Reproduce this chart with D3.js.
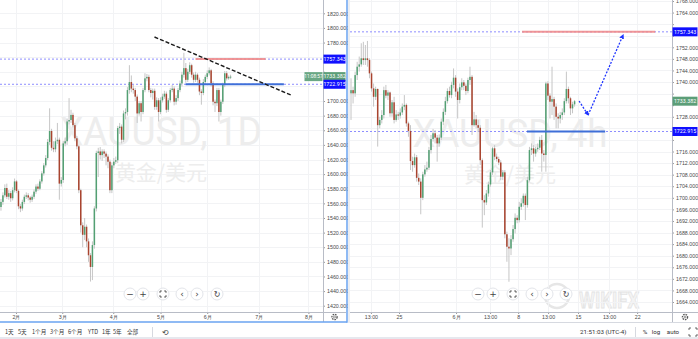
<!DOCTYPE html>
<html>
<head>
<meta charset="utf-8">
<script src="https://cdn.jsdelivr.net/npm/d3@7"></script>
<style>
  body { margin: 0; background: #fff; overflow: hidden; }
  svg { display: block; font-family: Roboto, "Noto Sans", "Noto Sans CJK SC", sans-serif; }
</style>
</head>
<body>
<svg id="chart" width="698" height="339"></svg>
<script>
// daily bars, [open, high, low, close]
const dailyOHLC = [
  [1555,1566,1550,1562],[1562,1575,1558,1571],[1571,1586,1568,1581],[1581,1587,1566,1569],[1569,1578,1565,1574],
  [1574,1577,1562,1567],[1567,1582,1564,1578],[1578,1594,1575,1590],[1590,1592,1574,1577],[1577,1579,1552,1556],
  [1556,1559,1548,1553],[1553,1565,1550,1562],[1562,1572,1559,1569],[1569,1575,1566,1571],[1571,1574,1564,1568],
  [1568,1570,1561,1565],[1565,1572,1562,1569],[1569,1579,1566,1576],[1576,1586,1573,1583],[1583,1587,1577,1580],
  [1580,1593,1578,1590],[1590,1604,1587,1601],[1601,1615,1598,1612],[1612,1626,1609,1622],[1622,1648,1619,1644],
  [1644,1690,1640,1659],[1659,1662,1632,1636],[1636,1645,1630,1634],[1634,1650,1630,1645],[1645,1670,1641,1647],
  [1647,1650,1565,1587],[1587,1596,1583,1592],[1592,1645,1588,1642],[1642,1650,1638,1645],[1645,1676,1640,1672],
  [1672,1704,1668,1674],[1674,1688,1670,1681],[1681,1684,1664,1667],[1667,1670,1645,1649],[1649,1652,1634,1638],
  [1638,1640,1574,1578],[1578,1580,1520,1530],[1530,1534,1500,1517],[1517,1540,1510,1528],[1528,1531,1500,1508],
  [1508,1512,1480,1489],[1489,1492,1453,1473],[1473,1508,1455,1503],[1503,1556,1498,1553],[1553,1632,1549,1629],
  [1629,1636,1596,1631],[1631,1637,1620,1626],[1626,1634,1618,1631],[1631,1634,1622,1628],[1628,1631,1612,1624],
  [1624,1627,1608,1617],[1617,1620,1574,1578],[1578,1616,1574,1612],[1612,1622,1608,1617],[1617,1624,1614,1619],
  [1619,1666,1615,1663],[1663,1670,1655,1665],[1665,1668,1642,1647],[1647,1687,1644,1683],[1683,1690,1675,1685],
  [1685,1719,1680,1715],[1715,1749,1710,1726],[1726,1735,1712,1717],[1717,1722,1710,1715],[1715,1718,1700,1706],
  [1706,1709,1670,1683],[1683,1700,1680,1697],[1697,1700,1672,1685],[1685,1718,1682,1715],[1715,1738,1712,1731],
  [1731,1737,1727,1733],[1733,1736,1712,1715],[1715,1718,1705,1711],[1711,1717,1702,1714],[1714,1717,1688,1692],
  [1692,1705,1688,1701],[1701,1704,1672,1685],[1685,1705,1682,1701],[1701,1710,1698,1706],[1706,1714,1703,1710],
  [1710,1713,1684,1688],[1688,1704,1685,1701],[1701,1718,1698,1715],[1715,1722,1712,1717],[1717,1720,1694,1699],
  [1699,1708,1695,1704],[1704,1718,1700,1715],[1715,1728,1712,1724],[1724,1740,1720,1736],[1736,1766,1732,1745],
  [1745,1752,1725,1729],[1729,1744,1726,1740],[1740,1753,1737,1749],[1749,1751,1732,1736],[1736,1739,1725,1729],
  [1729,1740,1726,1736],[1736,1738,1725,1729],[1729,1732,1708,1713],[1713,1716,1695,1711],[1711,1730,1708,1726],
  [1726,1736,1723,1733],[1733,1742,1730,1738],[1738,1746,1735,1742],[1742,1744,1720,1724],[1724,1727,1694,1699],
  [1699,1702,1685,1697],[1697,1718,1693,1715],[1715,1718,1672,1685],[1685,1702,1680,1699],[1699,1725,1696,1722],
  [1722,1741,1719,1738],[1738,1741,1728,1731],[1731,1735,1729,1733],[1733,1736,1730,1733.382]
];

// 4h bars, [open, high, low, close]
const h4OHLC = [
  [1736.1,1741.3,1726.9,1737.2],[1737.2,1738.4,1732.6,1736.1],[1736.1,1743.6,1734.9,1742.4],[1742.4,1747.0,1740.7,1745.3],
  [1745.3,1748.8,1743.6,1746.1],[1746.1,1753.4,1745.3,1748.2],[1748.2,1753.9,1745.9,1747.6],[1747.6,1752.8,1745.9,1748.2],
  [1748.2,1754.2,1745.3,1747.6],[1747.6,1748.2,1741.3,1743.0],[1743.0,1743.6,1736.7,1737.8],[1737.8,1739.5,1731.5,1734.9],
  [1734.9,1738.4,1733.8,1737.6],[1737.6,1737.8,1717.7,1725.1],[1725.1,1728.0,1724.0,1726.9],[1726.9,1730.3,1725.7,1728.6],
  [1728.6,1738.4,1727.4,1737.2],[1737.2,1739.0,1734.4,1735.3],[1735.3,1737.2,1733.8,1736.4],[1736.4,1736.7,1728.0,1729.2],
  [1729.2,1733.8,1728.0,1733.0],[1733.0,1734.9,1725.7,1726.9],[1726.9,1730.3,1726.3,1728.8],[1728.8,1729.7,1726.9,1728.4],
  [1728.4,1730.9,1727.4,1729.5],[1729.5,1732.6,1728.6,1731.5],[1731.5,1735.5,1730.3,1732.1],[1732.1,1732.6,1724.6,1725.7],
  [1725.7,1726.3,1721.1,1723.1],[1723.1,1725.1,1709.6,1712.7],[1712.7,1714.2,1709.0,1711.3],[1711.3,1715.3,1710.4,1714.0],
  [1714.0,1714.8,1705.6,1706.9],[1706.9,1708.4,1704.4,1705.6],[1705.6,1706.7,1694.3,1700.0],[1700.0,1709.0,1699.2,1708.1],
  [1708.1,1711.3,1707.3,1709.8],[1709.8,1712.5,1709.0,1710.4],[1710.4,1717.6,1709.6,1716.5],[1716.5,1721.7,1715.3,1720.3],
  [1720.3,1723.8,1719.4,1722.3],[1722.3,1723.4,1718.8,1720.8],[1720.8,1721.7,1712.5,1718.8],[1718.8,1721.9,1717.7,1720.8],
  [1720.8,1727.4,1720.0,1726.3],[1726.3,1730.9,1725.1,1729.7],[1729.7,1734.9,1728.6,1733.4],[1733.4,1737.8,1732.6,1736.9],
  [1736.9,1738.4,1734.6,1735.5],[1735.5,1740.1,1734.4,1739.0],[1739.0,1744.7,1737.8,1741.5],[1741.5,1742.4,1734.9,1736.7],
  [1736.7,1737.8,1727.4,1733.8],[1733.8,1739.5,1732.6,1738.2],[1738.2,1741.3,1737.2,1739.9],[1739.9,1740.7,1737.2,1738.7],
  [1738.7,1739.5,1735.5,1736.9],[1736.9,1741.5,1736.1,1740.7],[1740.7,1745.3,1739.0,1741.8],[1741.8,1742.4,1721.7,1725.1],
  [1725.1,1729.7,1724.6,1727.1],[1727.1,1728.6,1724.0,1725.1],[1725.1,1726.9,1722.8,1724.2],[1724.2,1725.1,1711.3,1713.0],
  [1713.0,1713.6,1689.7,1699.2],[1699.2,1700.9,1694.0,1698.4],[1698.4,1702.7,1697.5,1701.5],[1701.5,1705.6,1700.4,1704.6],
  [1704.6,1709.6,1703.8,1708.8],[1708.8,1717.6,1707.9,1717.1],[1717.1,1718.2,1713.0,1714.2],[1714.2,1715.3,1712.5,1713.4],
  [1713.4,1714.2,1711.3,1712.2],[1712.2,1713.0,1706.1,1707.3],[1707.3,1709.6,1706.1,1708.8],[1708.8,1709.6,1686.0,1687.4],
  [1687.4,1688.3,1677.9,1683.1],[1683.1,1686.0,1671.0,1682.5],[1682.5,1687.1,1680.2,1685.7],[1685.7,1690.6,1684.8,1689.2],
  [1689.2,1694.6,1687.7,1693.1],[1693.1,1694.0,1691.2,1692.3],[1692.3,1698.6,1691.5,1696.9],[1696.9,1699.8,1695.8,1698.1],
  [1698.1,1701.5,1696.9,1700.7],[1700.7,1701.5,1692.3,1697.5],[1697.5,1707.3,1696.6,1706.1],[1706.1,1717.6,1705.6,1716.5],
  [1716.5,1718.8,1714.8,1717.1],[1717.1,1718.2,1712.5,1715.3],[1715.3,1717.6,1714.2,1716.8],[1716.8,1718.8,1715.9,1717.3],
  [1717.3,1721.1,1716.5,1720.0],[1720.0,1721.7,1709.0,1715.3],[1715.3,1716.5,1712.5,1714.8],[1714.8,1740.1,1709.0,1739.5],
  [1739.5,1740.3,1733.8,1735.3],[1735.3,1736.1,1727.4,1733.2],[1733.2,1745.3,1728.6,1734.1],[1734.1,1734.9,1726.9,1731.5],
  [1731.5,1732.6,1724.0,1728.0],[1728.0,1729.2,1724.0,1727.4],[1727.4,1729.7,1725.7,1728.6],[1728.6,1730.9,1726.9,1729.5],
  [1729.5,1734.4,1728.6,1733.4],[1733.4,1743.6,1732.6,1737.6],[1737.6,1738.4,1732.6,1734.4],[1734.4,1734.9,1728.6,1730.9],
  [1730.9,1733.2,1729.2,1732.3],[1732.3,1733.8,1731.5,1733.382]
];

const dailyPriceTicks = [1420,1440,1460,1480,1500,1520,1540,1560,1580,1600,1620,1640,1660,1680,1700,1720,1740,1760,1780,1800,1820];
const h4PriceTicks = [1664,1668,1672,1676,1680,1684,1688,1692,1696,1700,1704,1708,1712,1716,1720,1724,1728,1732,1736,1740,1744,1748,1752,1756,1760,1764,1768];

const dailyTimeLabels = ["2月","3月","4月","5月","6月","7月","8月"];
const dailyTimeAt = [7.7, 31.5, 57.7, 82, 106, 132.5, 158];
const h4TimeLabels = ["13:00","25","6月","13:00","8","13:00","15","13:00","22"];
const h4TimeAt = [9.7, 23.4, 51.2, 67.8, 81.5, 96.1, 110.7, 125.8, 139.5];

const resistance = 1757.343;
const support = 1722.915;
const lastPrice = 1733.382;
const countdown = "11:08:57";

// drawings, in [bar index, price]
const dailyTrend = [[78.9, 1787.6], [149, 1708.2]];
const dailyRedSeg = [100, 136];
const dailyBlueSeg = [94.9, 145.4];
const h4RedSeg = [83.4, 148.3];
const h4BlueSeg = [85.8, 123.9];
const h4Arrow = [[111.2, 1733.45], [115.6, 1728.6], [132.7, 1756.3]];

const upColor = "#53a073";
const downColor = "#a9442f";
const wickColor = "#c6c6c6";
const gridColor = "#f2f3f5";
const textColor = "#4a4a4a";
const axisBottom = 312;

const svg = d3.select("#chart");
svg.append("rect").attr("width", 698).attr("height", 339).attr("fill", "#fff");

const defs = svg.append("defs");
defs.append("marker")
  .attr("id", "arrowBlue")
  .attr("viewBox", "0 0 10 10")
  .attr("refX", 8).attr("refY", 5)
  .attr("markerWidth", 5).attr("markerHeight", 5)
  .attr("orient", "auto-start-reverse")
  .attr("markerUnits", "userSpaceOnUse")
  .append("path").attr("d", "M0,0 L10,5 L0,10 z").attr("fill", "#1f35ff");

function drawPanel(p) {
  const x = d3.scaleLinear().domain(p.xDomain).range([p.left, p.right]);
  const y = d3.scaleLinear().domain(p.yDomain).range(p.yRange);
  const g = svg.append("g");

  defs.append("clipPath").attr("id", "clip-" + p.id)
    .append("rect").attr("x", p.left).attr("y", 0)
    .attr("width", p.right - p.left).attr("height", axisBottom);

  // grid
  g.append("g").selectAll("line").data(p.priceTicks).join("line")
    .attr("x1", p.left).attr("x2", p.right)
    .attr("y1", d => Math.round(y(d)) + 0.5).attr("y2", d => Math.round(y(d)) + 0.5)
    .attr("stroke", gridColor);
  g.append("g").selectAll("line").data(p.timeAt).join("line")
    .attr("x1", d => Math.round(x(d)) + 0.5).attr("x2", d => Math.round(x(d)) + 0.5)
    .attr("y1", 0).attr("y2", axisBottom)
    .attr("stroke", gridColor);

  // watermark
  const mid = p.wmX;
  g.append("text").attr("x", mid).attr("y", p.wmY)
    .attr("text-anchor", "middle").attr("font-size", 39)
    .attr("textLength", p.wmW).attr("lengthAdjust", "spacingAndGlyphs")
    .attr("fill", "#ededed").text(p.title);
  g.append("text").attr("x", mid).attr("y", p.wmY + 35)
    .attr("text-anchor", "middle").attr("font-size", 21)
    .attr("font-family", "'Noto Sans CJK SC', sans-serif")
    .attr("fill", "#ededed").text("黄金/美元");

  const plot = g.append("g").attr("clip-path", `url(#clip-${p.id})`);

  // level lines (dotted)
  plot.selectAll("line.level").data([resistance, support]).join("line")
    .attr("class", "level")
    .attr("x1", p.left).attr("x2", p.right)
    .attr("y1", d => y(d)).attr("y2", d => y(d))
    .attr("stroke", "#8d8dff").attr("stroke-width", 1)
    .attr("stroke-dasharray", "2,2");

  // candles
  plot.append("g").selectAll("line").data(p.bars).join("line")
    .attr("x1", (d, i) => x(i)).attr("x2", (d, i) => x(i))
    .attr("y1", d => y(d[1])).attr("y2", d => y(d[2]))
    .attr("stroke", wickColor).attr("stroke-width", 1);
  plot.append("g").selectAll("rect").data(p.bars).join("rect")
    .attr("x", (d, i) => x(i) - 0.75).attr("width", 1.5)
    .attr("y", d => y(Math.max(d[0], d[3])))
    .attr("height", d => Math.max(1, Math.abs(y(d[0]) - y(d[3]))))
    .attr("fill", d => d[3] >= d[0] ? upColor : downColor);

  // drawn segments
  plot.append("line")
    .attr("x1", x(p.redSeg[0])).attr("x2", x(p.redSeg[1]))
    .attr("y1", y(resistance)).attr("y2", y(resistance))
    .attr("stroke", "#f08c8c").attr("stroke-width", 2).attr("opacity", 0.9);
  plot.append("line")
    .attr("x1", x(p.blueSeg[0])).attr("x2", x(p.blueSeg[1]))
    .attr("y1", y(support)).attr("y2", y(support))
    .attr("stroke", "#3f6fd8").attr("stroke-width", 2.2);

  p.extra && p.extra(plot, x, y);

  // price axis; labels hidden where a price tag sits on top of them
  const tagged = [resistance, lastPrice, support];
  const ay = g.append("g").attr("transform", `translate(${p.right},0)`)
    .call(d3.axisRight(y).tickValues(p.priceTicks).tickFormat(d3.format(".3f")).tickSize(2).tickPadding(2));
  ay.select(".domain").remove();
  ay.selectAll(".tick line").attr("stroke", "#9a9a9a");
  ay.selectAll("text").attr("font-size", 5.3).attr("fill", textColor)
    .style("display", d => tagged.some(v => Math.abs(y(v) - y(d)) < 8.5) ? "none" : null);
  g.append("line").attr("x1", p.right + 0.5).attr("x2", p.right + 0.5)
    .attr("y1", 0).attr("y2", 322).attr("stroke", "#b8bcc6");

  // time axis
  const ax = g.append("g").attr("transform", `translate(0,${axisBottom})`)
    .call(d3.axisBottom(x).tickValues(p.timeAt).tickFormat((d, i) => p.timeLabels[i]).tickSize(2).tickPadding(1.5));
  ax.select(".domain").remove();
  ax.selectAll(".tick line").attr("stroke", "#9a9a9a");
  ax.selectAll("text").attr("font-size", 5.3).attr("fill", textColor);
  g.append("line").attr("x1", p.left).attr("x2", p.right + p.axisW)
    .attr("y1", axisBottom + 0.5).attr("y2", axisBottom + 0.5).attr("stroke", "#b8bcc6");

  // gear in the corner
  const gear = g.append("g").attr("transform", `translate(${p.right + p.axisW / 2},317)`);
  gear.append("circle").attr("r", 2.6).attr("fill", "none").attr("stroke", "#555").attr("stroke-width", 1.3)
    .attr("stroke-dasharray", "1.6,0.9");
  gear.append("circle").attr("r", 1).attr("fill", "none").attr("stroke", "#555").attr("stroke-width", 0.6);

  // price labels
  const labels = [
    { v: resistance, fill: "#1010ff" },
    { v: lastPrice, fill: "#5c9e78" },
    { v: support, fill: "#1010ff" }
  ];
  const lg = g.append("g").selectAll("g").data(labels).join("g")
    .attr("transform", d => `translate(${p.right + 0.5},${y(d.v)})`);
  lg.append("rect").attr("x", 0).attr("y", -4.5).attr("width", p.axisW - 1).attr("height", 9).attr("fill", d => d.fill);
  lg.append("text").attr("x", (p.axisW - 1) / 2).attr("y", 0).attr("dy", "0.35em")
    .attr("text-anchor", "middle").attr("font-size", 5.3).attr("fill", "#fff")
    .text(d => d3.format(".3f")(d.v));
  if (p.countdown) {
    const cg = g.append("g").attr("transform", `translate(${p.right - 18.5},${y(lastPrice)})`);
    cg.append("rect").attr("x", 0).attr("y", -4.5).attr("width", 18).attr("height", 9).attr("fill", "#6aa784");
    cg.append("text").attr("x", 9).attr("dy", "0.35em").attr("text-anchor", "middle")
      .attr("font-size", 4.8).attr("fill", "#fff").text(countdown);
  }

  // navigation buttons
  const icons = ["−", "+", "", "‹", "›", "↻"];
  const nb = g.append("g").selectAll("g").data(p.navX).join("g")
    .attr("transform", d => `translate(${d},294)`);
  nb.append("circle").attr("r", 6).attr("fill", "#fff").attr("stroke", "#e3e5ea");
  nb.append("text").attr("dy", "0.35em").attr("text-anchor", "middle")
    .attr("font-size", (d, i) => i === 5 ? 8 : 9).attr("fill", "#444")
    .attr("font-family", "'DejaVu Sans', sans-serif")
    .text((d, i) => icons[i]);
  const fs = d3.select(nb.nodes()[2]);
  fs.append("path").attr("d", "M-3,-1.2V-3H-1.2M1.2,-3H3V-1.2M3,1.2V3H1.2M-1.2,3H-3V1.2")
    .attr("fill", "none").attr("stroke", "#444").attr("stroke-width", 0.9);
}

// wikifx watermark sits under the right panel controls
const wm = svg.append("g");
wm.append("circle").attr("cx", 557).attr("cy", 296).attr("r", 12)
  .attr("fill", "none").attr("stroke", "#e6e6e6").attr("stroke-width", 2.5);
wm.append("text").attr("x", 579).attr("y", 308).attr("font-size", 22).attr("font-weight", 700)
  .attr("textLength", 60).attr("lengthAdjust", "spacingAndGlyphs")
  .attr("fill", "#f4f4f4").attr("stroke", "#e4e4e4").attr("stroke-width", 0.8).text("WIKIFX");

drawPanel({
  id: "daily", bars: dailyOHLC, left: 0, right: 323, axisW: 23,
  xDomain: [-0.5, 165.5], yDomain: [1420, 1820], yRange: [305.7, 13.3],
  priceTicks: dailyPriceTicks, timeAt: dailyTimeAt, timeLabels: dailyTimeLabels,
  title: "XAUUSD, 1D", wmX: 161, wmY: 145, wmW: 202,
  redSeg: dailyRedSeg, blueSeg: dailyBlueSeg, countdown: true,
  navX: [130, 143, 163, 182, 197, 217],
  extra: (plot, x, y) => {
    plot.append("line")
      .attr("x1", x(dailyTrend[0][0])).attr("y1", y(dailyTrend[0][1]))
      .attr("x2", x(dailyTrend[1][0])).attr("y2", y(dailyTrend[1][1]))
      .attr("stroke", "#1a1a1a").attr("stroke-width", 1.4).attr("stroke-dasharray", "4,2");
  }
});

drawPanel({
  id: "h4", bars: h4OHLC, left: 350, right: 672, axisW: 26,
  xDomain: [-0.5, 156.5], yDomain: [1664, 1768], yRange: [302, 1],
  priceTicks: h4PriceTicks, timeAt: h4TimeAt, timeLabels: h4TimeLabels,
  title: "XAUUSD, 4h", wmX: 510, wmY: 147, wmW: 195,
  redSeg: h4RedSeg, blueSeg: h4BlueSeg, countdown: false,
  navX: [478, 493, 513, 532, 547, 566],
  extra: (plot, x, y) => {
    for (let k = 0; k < h4Arrow.length - 1; k++) {
      plot.append("line")
        .attr("x1", x(h4Arrow[k][0])).attr("y1", y(h4Arrow[k][1]))
        .attr("x2", x(h4Arrow[k + 1][0])).attr("y2", y(h4Arrow[k + 1][1]))
        .attr("stroke", "#1f35ff").attr("stroke-width", 1.3)
        .attr("stroke-dasharray", "2,1.5")
        .attr("marker-end", "url(#arrowBlue)");
    }
  }
});

// panel frames
svg.append("line").attr("x1", 0).attr("x2", 347).attr("y1", 322).attr("y2", 322)
  .attr("stroke", "#6aa3f0").attr("stroke-width", 1.5);
svg.append("line").attr("x1", 347).attr("x2", 347).attr("y1", 0).attr("y2", 322.7)
  .attr("stroke", "#6aa3f0").attr("stroke-width", 1.5);
svg.append("rect").attr("x", 348).attr("y", 0).attr("width", 2).attr("height", 323).attr("fill", "#eceef2");
svg.append("line").attr("x1", 350).attr("x2", 698).attr("y1", 322.5).attr("y2", 322.5).attr("stroke", "#d6d9e0");

// bottom toolbar
svg.append("rect").attr("x", 0).attr("y", 337).attr("width", 698).attr("height", 2).attr("fill", "#e6e8ee");
const ranges = ["1天", "5天", "1个月", "3个月", "6个月", "YTD", "1年", "5年", "全部"];
const rangeX = [5, 18, 32, 50, 68, 88, 102, 113, 127];
svg.append("g").selectAll("text").data(ranges).join("text")
  .attr("x", (d, i) => rangeX[i]).attr("y", 332).attr("dy", "0.35em")
  .attr("font-size", 5.6).attr("fill", "#333")
  .attr("font-family", "'Noto Sans CJK SC', Roboto, sans-serif")
  .text(d => d);
svg.append("line").attr("x1", 152.5).attr("x2", 152.5).attr("y1", 327).attr("y2", 337).attr("stroke", "#d6d9e0");
svg.append("text").attr("x", 165).attr("y", 332).attr("dy", "0.35em").attr("text-anchor", "middle")
  .attr("font-size", 8).attr("fill", "#444").attr("font-family", "'DejaVu Sans', sans-serif").text("⟲");

svg.append("text").attr("x", 580).attr("y", 332).attr("dy", "0.35em")
  .attr("font-size", 6.2).attr("fill", "#333").text("21:51:03 (UTC-4)");
svg.append("line").attr("x1", 635.5).attr("x2", 635.5).attr("y1", 327).attr("y2", 337).attr("stroke", "#d6d9e0");
const opts = ["%", "log", "auto"];
const optX = [645, 656, 673];
svg.append("g").selectAll("text").data(opts).join("text")
  .attr("x", (d, i) => optX[i]).attr("y", 332).attr("dy", "0.35em").attr("text-anchor", "middle")
  .attr("font-size", 6.2).attr("fill", "#333").text(d => d);
svg.append("path").attr("d", "M689,330V328H691M695,328H697V330M697,334V336H695M691,336H689V334")
  .attr("fill", "none").attr("stroke", "#444").attr("stroke-width", 0.8);
</script>
</body>
</html>
